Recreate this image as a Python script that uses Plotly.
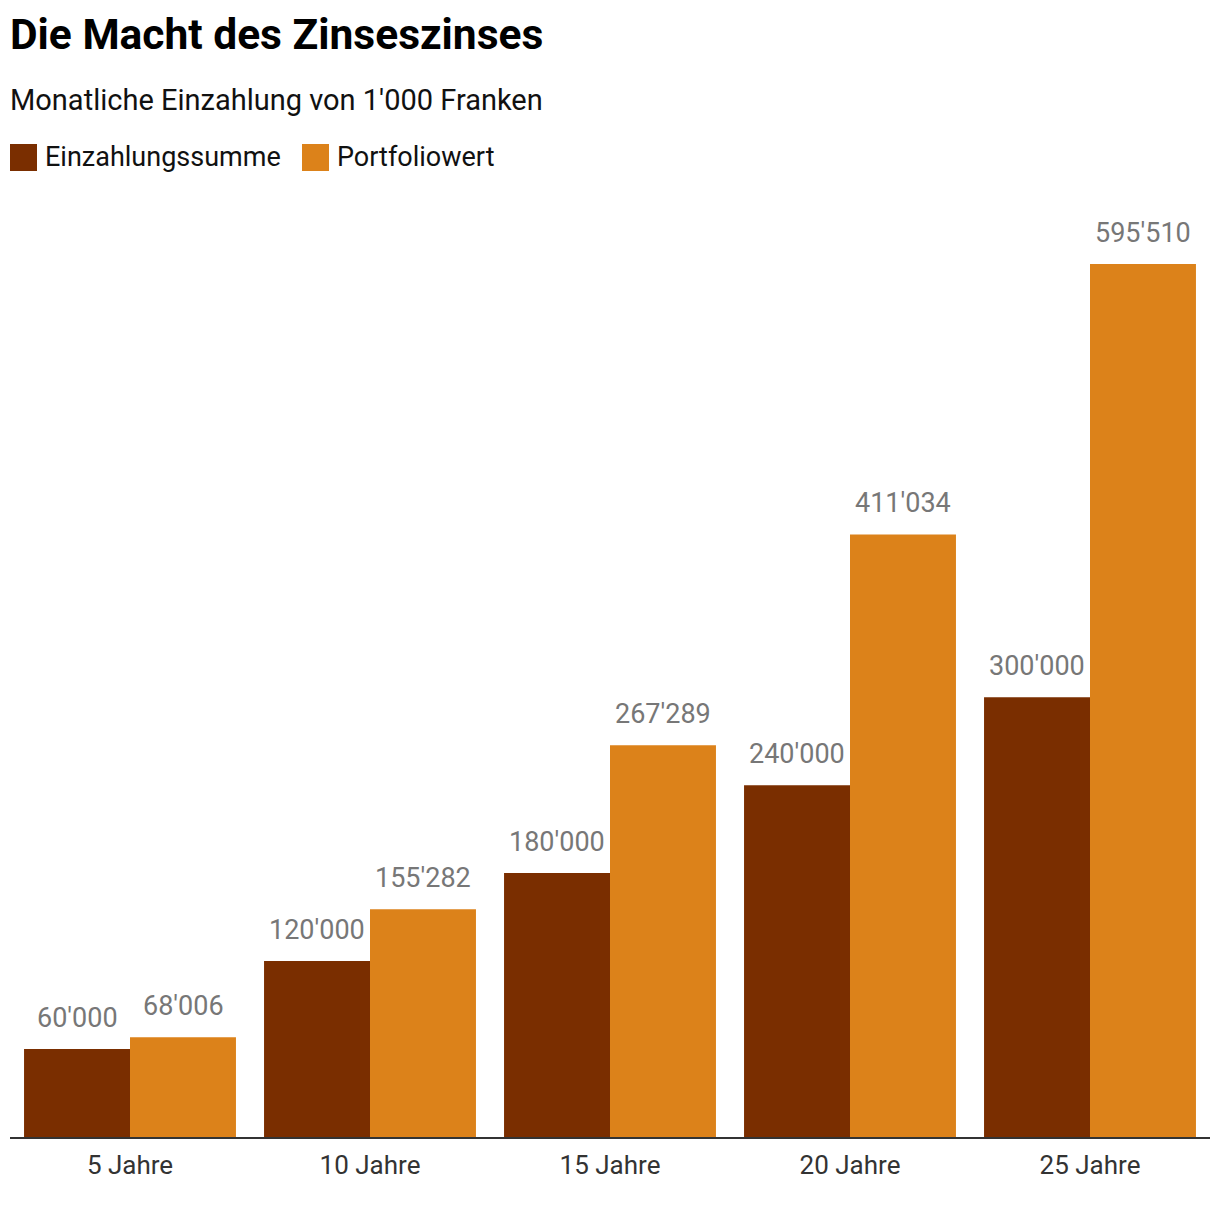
import plotly.graph_objects as go

categories = ["5 Jahre", "10 Jahre", "15 Jahre", "20 Jahre", "25 Jahre"]
einzahlung = [60000, 120000, 180000, 240000, 300000]
portfolio = [68006, 155282, 267289, 411034, 595510]
series_names = ["Einzahlungssumme", "Portfoliowert"]
colors = ["#7A2E00", "#DC821A"]

FONT = "Roboto"
# page body has an 8px offset; figure sized so it fits the 1220x1206 window
W, H = 1212, 1198
PL, PT, PR, PB = 10, 220, 1210, 1137  # plot area in screen pixels


def px(x):
    return (x - PL) / (PR - PL)


def py(y):
    return (PB - y) / (PB - PT)


fig = go.Figure()
for name, vals, col in zip(series_names, [einzahlung, portfolio], colors):
    fig.add_trace(go.Bar(x=categories, y=vals, name=name, marker=dict(color=col, line=dict(width=0)),
                         showlegend=False, hoverinfo="skip"))


def fmt(v):
    return f"{v:,}".replace(",", "'")


ann = []
for vals, shift in [(einzahlung, -53), (portfolio, 53)]:
    for c, v in zip(categories, vals):
        ann.append(dict(x=c, y=v, xref="x", yref="y", text=fmt(v), showarrow=False,
                        xshift=shift, yshift=13, yanchor="bottom",
                        font=dict(family=FONT, size=27, color="#777777")))

ann.append(dict(x=px(8), y=py(35), xref="paper", yref="paper", text="<b>Die Macht des Zinseszinses</b>",
                showarrow=False, xanchor="left", yanchor="middle",
                font=dict(family=FONT, size=42.5, color="#000000")))
ann.append(dict(x=px(8), y=py(100), xref="paper", yref="paper", text="Monatliche Einzahlung von 1'000 Franken",
                showarrow=False, xanchor="left", yanchor="middle",
                font=dict(family=FONT, size=29, color="#111111")))

shapes = []
legend_x = [10, 302]
for name, col, lx in zip(series_names, colors, legend_x):
    shapes.append(dict(type="rect", xref="paper", yref="paper",
                       x0=px(lx), x1=px(lx + 27), y0=py(171), y1=py(144),
                       fillcolor=col, line=dict(width=0)))
    ann.append(dict(x=px(lx + 33), y=py(157), xref="paper", yref="paper", text=name,
                    showarrow=False, xanchor="left", yanchor="middle",
                    font=dict(family=FONT, size=27, color="#111111")))

fig.update_layout(
    width=W, height=H,
    margin=dict(l=PL - 8, r=W + 8 - PR, t=PT - 8, b=H + 8 - PB),
    paper_bgcolor="white", plot_bgcolor="white",
    barmode="group", bargap=0.117, bargroupgap=0,
    annotations=ann, shapes=shapes,
    xaxis=dict(showline=True, linecolor="#333333", linewidth=2, ticks="", showgrid=False,
               ticklabelstandoff=4,
               tickfont=dict(family=FONT, size=26, color="#333333"), fixedrange=True),
    yaxis=dict(range=[0, 625500], visible=False, showgrid=False, fixedrange=True),
    showlegend=False,
)

fig.write_html("out.html", config={"displayModeBar": False})
